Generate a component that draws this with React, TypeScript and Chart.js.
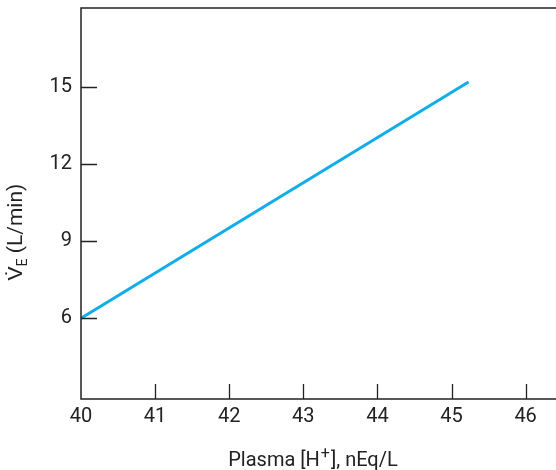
import React, { useEffect, useRef } from "react";
import { Chart, registerables } from "chart.js";

Chart.register(...registerables);

const plasmaH = [40, 45.23];
const ventilation = [6, 15.18];
const xTicks = [40, 41, 42, 43, 44, 45, 46];
const yTicks = [6, 9, 12, 15];
const xTitleParts = ["Plasma [H", "+", "], nEq/L"];
const yTitleMain = "V\u0307";
const yTitleSub = "E";
const yTitleRest = " (L/min)";

const FONT = "'Liberation Sans Narrow', 'Roboto', 'Liberation Sans', sans-serif";
const AXIS = "#222222";
const LINE = "#10ade9";

const framePlugin = {
  id: "frame",
  afterDraw(chart: any) {
    const ctx = chart.ctx;
    const area = chart.chartArea;
    const xs = chart.scales.x;
    const ys = chart.scales.y;
    ctx.save();
    ctx.strokeStyle = AXIS;
    ctx.lineWidth = 1.5;
    ctx.beginPath();
    ctx.moveTo(area.right + 5, area.top);
    ctx.lineTo(area.left, area.top);
    ctx.lineTo(area.left, area.bottom);
    ctx.lineTo(area.right + 5, area.bottom);
    ctx.stroke();
    ctx.lineWidth = 1.3;
    ctx.beginPath();
    xTicks.forEach((v) => {
      if (v === xTicks[0]) return;
      const px = Math.round(xs.getPixelForValue(v)) + 0.5;
      ctx.moveTo(px, area.bottom);
      ctx.lineTo(px, area.bottom - 15);
    });
    yTicks.forEach((v) => {
      const py = Math.round(ys.getPixelForValue(v)) + 0.5;
      ctx.moveTo(area.left, py);
      ctx.lineTo(area.left + 16, py);
    });
    ctx.stroke();

    // x title with superscript
    ctx.fillStyle = AXIS;
    ctx.textBaseline = "alphabetic";
    ctx.textAlign = "left";
    const big = `20px ${FONT}`;
    const sup = `16px ${FONT}`;
    ctx.font = big;
    const a = ctx.measureText(xTitleParts[0]).width;
    const c = ctx.measureText(xTitleParts[2]).width;
    ctx.font = sup;
    const b = ctx.measureText(xTitleParts[1]).width + 2;
    let xx = 313 - (a + b + c) / 2;
    const base = 466;
    ctx.font = big;
    ctx.fillText(xTitleParts[0], xx, base);
    xx += a;
    ctx.font = sup;
    ctx.fillText(xTitleParts[1], xx + 1, base - 8);
    xx += b;
    ctx.font = big;
    ctx.fillText(xTitleParts[2], xx, base);

    // y title (rotated)
    const bigY = `21px ${FONT}`;
    ctx.translate(17, 232);
    ctx.rotate(-Math.PI / 2);
    ctx.textBaseline = "middle";
    const small = `14px ${FONT}`;
    ctx.font = bigY;
    const w1 = ctx.measureText(yTitleMain).width;
    ctx.font = small;
    const w2 = ctx.measureText(yTitleSub).width;
    ctx.font = bigY;
    const w3 = ctx.measureText(yTitleRest).width;
    let x0 = -(w1 + w2 + w3) / 2;
    ctx.font = bigY;
    ctx.fillText(yTitleMain, x0, 0);
    x0 += w1;
    ctx.font = small;
    ctx.fillText(yTitleSub, x0, 6);
    x0 += w2;
    ctx.font = bigY;
    ctx.fillText(yTitleRest, x0, 0);
    ctx.restore();
  },
};

export default function App() {
  const ref = useRef<HTMLCanvasElement>(null);
  useEffect(() => {
    if (!ref.current) return;
    const chart = new Chart(ref.current, {
      type: "line",
      data: {
        datasets: [
          {
            data: plasmaH.map((x, i) => ({ x, y: ventilation[i] })),
            borderColor: LINE,
            borderWidth: 3,
            pointRadius: 0,
            fill: false,
            tension: 0,
          },
        ],
      },
      options: {
        animation: false,
        responsive: false,
        layout: { padding: { top: 8, right: 0, left: 0, bottom: 0 } },
        plugins: { legend: { display: false }, tooltip: { enabled: false } },
        scales: {
          x: {
            type: "linear",
            min: 40,
            max: 46.41,
            afterBuildTicks: (s: any) => {
              s.ticks = xTicks.map((v) => ({ value: v }));
            },
            afterFit: (s: any) => {
              s.height = 71;
              s.paddingLeft = 0;
              s.paddingRight = 0;
            },
            grid: { display: false, drawTicks: false },
            border: { display: false },
            ticks: {
              padding: 6,
              color: AXIS,
              font: { family: FONT, size: 20 },
              maxRotation: 0,
              autoSkip: false,
            },
          },
          y: {
            type: "linear",
            min: 2.86,
            max: 18.06,
            afterBuildTicks: (s: any) => {
              s.ticks = yTicks.map((v) => ({ value: v }));
            },
            afterFit: (s: any) => {
              s.width = 81;
              s.paddingTop = 0;
              s.paddingBottom = 0;
            },
            grid: { display: false, drawTicks: false },
            border: { display: false },
            ticks: {
              padding: 9,
              color: AXIS,
              font: { family: FONT, size: 20 },
              autoSkip: false,
            },
          },
        },
      },
      plugins: [framePlugin],
    });
    return () => chart.destroy();
  }, []);
  return (
    <div style={{ position: "absolute", left: 0, top: 0, width: 556, height: 470, background: "#fff" }}>
      <canvas ref={ref} width={556} height={470} style={{ display: "block" }} />
    </div>
  );
}
